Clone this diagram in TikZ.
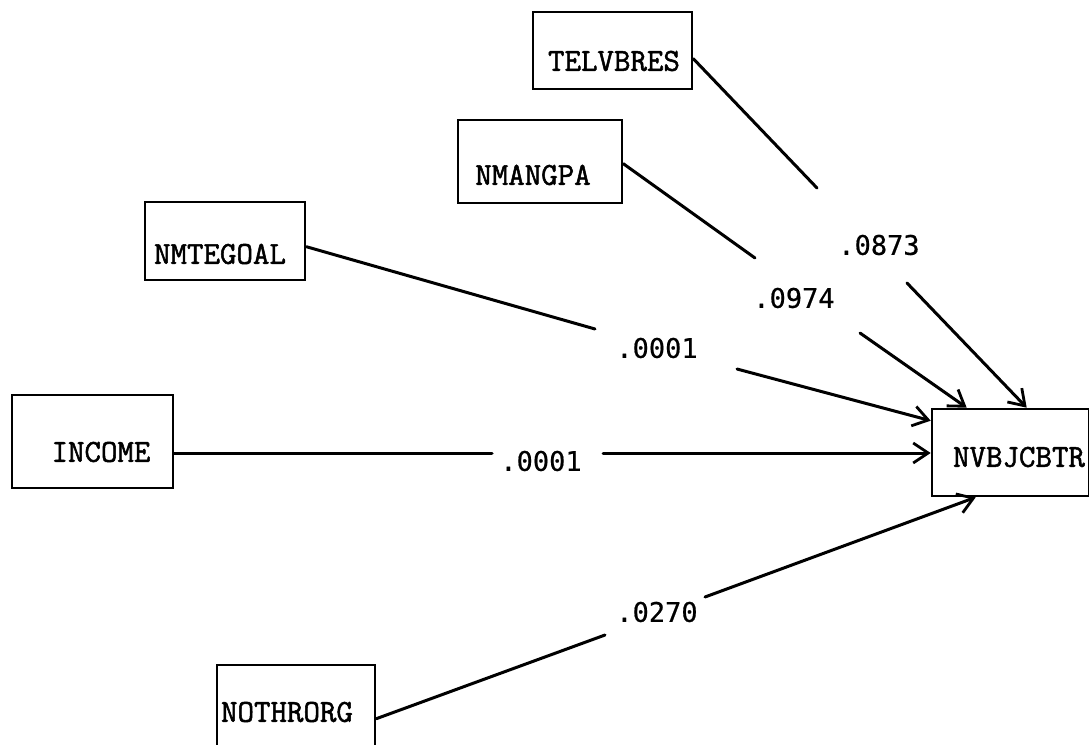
\documentclass[tikz,border=0pt]{standalone}
\usepackage{fontspec}
\newfontfamily\numfont[FakeBold=0.6]{DejaVu Sans Mono}
\newfontfamily\boxfont[FakeBold=1.6]{Latin Modern Mono}
\usetikzlibrary{arrows.meta,calc}
\tikzset{
  boxnode/.style={draw, line width=2.6pt, inner sep=0pt},
  boxtext/.style={font=\fontsize{32}{32}\selectfont\boxfont, inner sep=0pt},
  coef/.style={font=\fontsize{27}{27}\selectfont\numfont, inner sep=0pt},
  link/.style={line width=3pt, line cap=round},
  arr/.style={link, -{Straight Barb[length=15pt,width=20pt,line width=2.8pt]}}
}
\begin{document}
\begin{tikzpicture}[x=1pt,y=-1pt]
\useasboundingbox (0,0) rectangle (1089,744);
% boxes
\node[boxnode, minimum width=159pt, minimum height=77pt] (tel) at (612.5,50.5) {};
\node[boxnode, minimum width=164pt, minimum height=83pt] (man) at (540,161.5) {};
\node[boxnode, minimum width=160pt, minimum height=78pt] (goal) at (225,241) {};
\node[boxnode, minimum width=161pt, minimum height=93pt] (inc) at (92.5,441.5) {};
\node[boxnode, minimum width=158pt, minimum height=95pt] (noth) at (296,712.5) {};
\node[boxnode, minimum width=157pt, minimum height=87pt] (nvb) at (1010.5,452.5) {};
% box texts
\node[boxtext] (telt) at (614,61) {TELVBRES};
\node[boxtext] (mant) at (533,175) {NMANGPA};
\node[boxtext] (goalt) at (220,254) {NMTEGOAL};
\node[boxtext] (inct) at (101,452) {INCOME};
\node[boxtext] (notht) at (287,712) {NOTHRORG};
\node[boxtext] (nvbt) at (1019,457) {NVBJCBTR};
% coefficients
\node[coef] (c1) at (879,245) {.0873};
\node[coef] (c2) at (794,298) {.0974};
\node[coef] (c3) at (657,348) {.0001};
\node[coef] (c4) at (541,461) {.0001};
\node[coef] (c5) at (657,612) {.0270};
% gap coordinates
\coordinate (g1a) at (817,188); \coordinate (g1b) at (907,283);
\coordinate (g2a) at (755,258); \coordinate (g2b) at (860,333);
\coordinate (g3a) at (595,329); \coordinate (g3b) at (737,369);
\coordinate (g4a) at (492,453); \coordinate (g4b) at (603,453);
\coordinate (g5a) at (605,635); \coordinate (g5b) at (705,597);
% connectors
\draw[link] ($(tel.north east)+(0,48)$) -- (g1a);
\draw[arr] (g1b) -- ($(nvb.north west)+(96,0)$);
\draw[link] ($(man.north east)+(0,45)$) -- (g2a);
\draw[arr] (g2b) -- ($(nvb.north west)+(36,0)$);
\draw[link] ($(goal.north east)+(0,46)$) -- (g3a);
\draw[arr] (g3b) -- ($(nvb.north west)+(0,13)$);
\draw[link] ($(inc.east)+(0,11.5)$) -- (g4a);
\draw[arr] (g4b) -- ($(nvb.west)+(0,0.5)$);
\draw[link] ($(noth.north east)+(0,55)$) -- (g5a);
\draw[arr] (g5b) -- ($(nvb.south west)+(45,0)$);
\end{tikzpicture}
\end{document}
